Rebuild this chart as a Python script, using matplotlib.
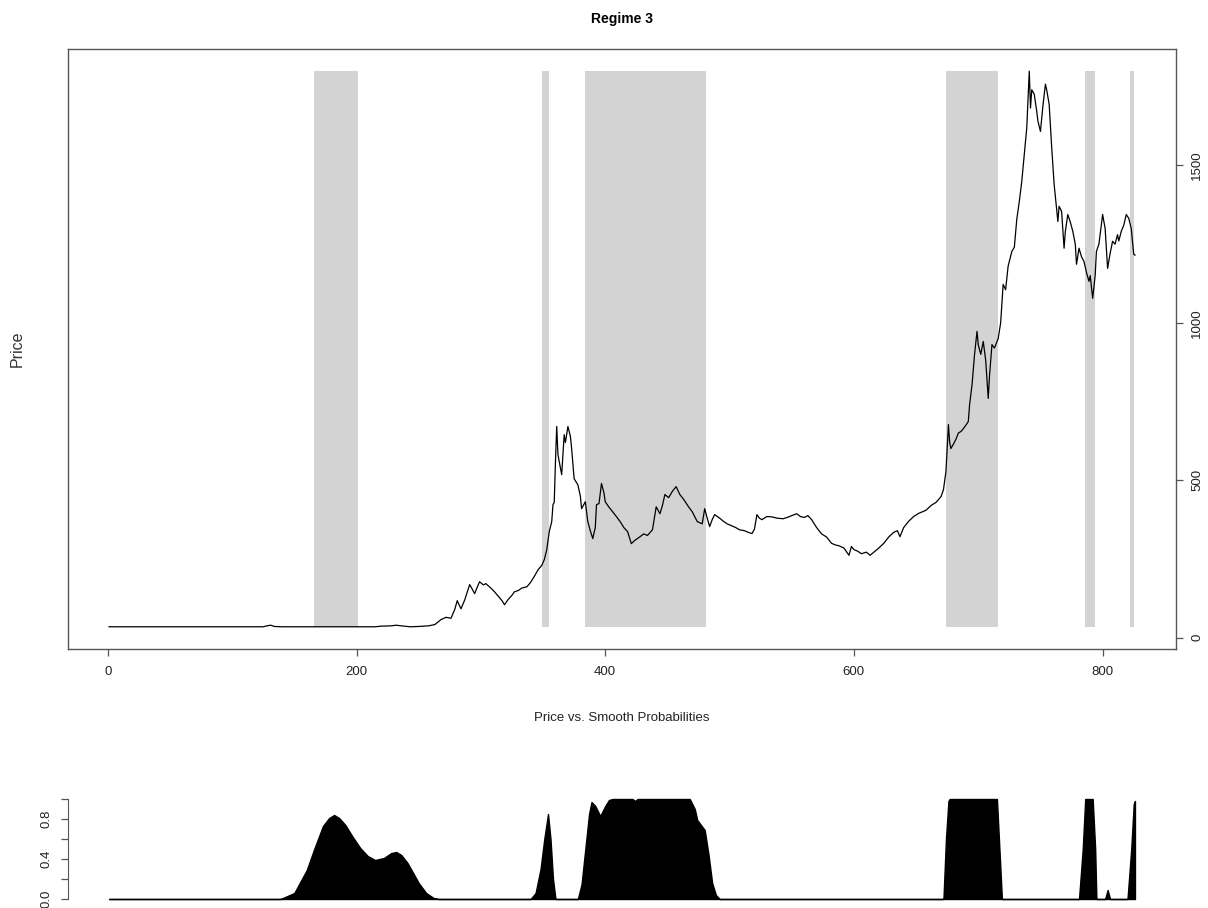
import numpy as np
import matplotlib
matplotlib.use('Agg')
import matplotlib.pyplot as plt

plt.rcParams['font.family'] = ['Liberation Sans Narrow', 'Liberation Sans', 'DejaVu Sans']

# price series (month index, price)
month = [1, 125, 128, 131, 134, 140, 215, 220, 228, 232, 236, 243, 250, 258, 263, 268, 272, 276,
         279, 281, 284, 287, 291, 293, 295, 297, 299, 302, 304, 308, 311, 314, 317, 319, 322, 325,
         327, 330, 333, 337, 340, 343, 346, 349, 351, 353, 355, 357, 358, 359, 360, 361, 362, 363,
         365, 367, 368, 370, 372, 373, 375, 378, 380, 381, 384, 386, 388, 390, 392, 393, 395, 397,
         399, 400, 403, 406, 409, 412, 415, 418, 421, 424, 428, 431, 434, 438, 441, 444, 446, 448,
         451, 454, 457, 460, 463, 467, 470, 474, 478, 480, 482, 484, 486, 488, 492, 495, 498, 502,
         505, 508, 512, 515, 518, 520, 522, 524, 526, 530, 534, 538, 543, 547, 550, 554, 557, 560,
         563, 566, 570, 574, 578, 582, 585, 588, 592, 596, 598, 600, 603, 606, 610, 613, 616, 620,
         624, 628, 632, 635, 637, 640, 644, 648, 652, 655, 658, 662, 666, 670, 672, 674, 675, 676,
         677, 678, 680, 682, 684, 686, 688, 690, 692, 693, 695, 697, 699, 700, 702, 704, 706, 708,
         709, 711, 713, 716, 718, 720, 722, 724, 727, 729, 731, 733, 735, 737, 739, 741, 742, 743,
         745, 746, 747, 748, 750, 752, 754, 755, 757, 759, 761, 762, 764, 765, 767, 769, 770, 772,
         774, 776, 778, 779, 781, 783, 785, 787, 789, 790, 792, 794, 795, 797, 800, 802, 804, 806,
         808, 810, 812, 813, 815, 817, 819, 821, 823, 825, 826]
price = [35, 35, 38, 40, 36, 35, 35, 37, 38, 40, 38, 35, 36, 38, 42, 58, 65, 62,
         90, 118, 92, 120, 169, 155, 140, 160, 178, 168, 172, 158, 146, 132, 118, 105, 122, 135,
         146, 150, 158, 162, 176, 195, 216, 230, 248, 280, 337, 369, 423, 430, 560, 671, 582, 560,
         518, 645, 620, 671, 640, 601, 505, 486, 450, 410, 432, 369, 340, 315, 350, 423, 426, 490,
         460, 432, 415, 400, 385, 369, 350, 337, 299, 310, 321, 330, 325, 343, 416, 394, 420, 455,
         445, 465, 480, 455, 440, 416, 400, 369, 362, 410, 380, 353, 375, 391, 380, 370, 362, 355,
         350, 343, 340, 335, 331, 345, 391, 380, 375, 385, 384, 380, 378, 383, 388, 394, 385, 382,
         388, 375, 350, 330, 320, 300, 295, 292, 285, 262, 290, 280, 275, 267, 272, 262, 272, 285,
         300, 320, 335, 340, 321, 350, 370, 385, 395, 400, 405, 420, 430, 448, 470, 528, 600, 677,
         620, 601, 615, 630, 650, 655, 664, 675, 687, 740, 804, 900, 973, 930, 900, 941, 880, 760,
         830, 931, 920, 950, 1000, 1122, 1105, 1180, 1227, 1240, 1330, 1386, 1450, 1535, 1620, 1799, 1682, 1740,
         1726, 1700, 1672, 1640, 1608, 1690, 1758, 1740, 1694, 1560, 1440, 1400, 1322, 1370, 1354, 1237, 1290, 1344,
         1320, 1291, 1250, 1186, 1237, 1210, 1195, 1160, 1132, 1150, 1078, 1150, 1227, 1250, 1344, 1300, 1173, 1220,
         1259, 1250, 1280, 1260, 1291, 1310, 1344, 1332, 1300, 1218, 1215]

# smoothed probability of regime 3 (month index, probability)
prob_month = [1, 139, 150, 160, 166, 173, 178, 182, 186, 191, 197, 203, 209, 215, 222, 228, 232, 236,
              241, 246, 250, 256, 262, 266,
              340, 344, 348, 351, 354, 356, 358, 360,
              378, 381, 384, 387, 389, 392, 396, 400, 403, 406, 422, 424, 426, 468, 472, 474, 477,
              480, 483, 486, 489, 492,
              672, 674, 676, 677, 715, 717, 719,
              781, 784, 786, 792, 794, 795,
              802, 804, 806,
              820, 823, 825, 826]
prob = [0, 0, 0.06, 0.29, 0.5, 0.73, 0.81, 0.84, 0.81, 0.74, 0.62, 0.51, 0.43, 0.39, 0.41, 0.46, 0.47, 0.44,
        0.36, 0.25, 0.16, 0.06, 0.01, 0,
        0, 0.06, 0.3, 0.6, 0.85, 0.6, 0.2, 0,
        0, 0.15, 0.5, 0.85, 0.97, 0.93, 0.83, 0.93, 0.99, 1.0, 1.0, 0.98, 1.0, 1.0, 0.9, 0.79, 0.74,
        0.69, 0.45, 0.16, 0.04, 0,
        0, 0.6, 0.98, 1.0, 1.0, 0.5, 0,
        0, 0.5, 1.0, 1.0, 0.5, 0,
        0, 0.09, 0,
        0, 0.5, 0.95, 0.98]

# months classified in regime 3
regime_start = [166, 349, 384, 674, 786, 822]
regime_end = [201, 355, 481, 716, 794, 825]

month = np.array(month)
price = np.array(price)

W, H = 1208, 908
fig = plt.figure(figsize=(W / 100, H / 100), dpi=100)

axcol = '#555555'
txtcol = '#222222'

# R-style 4% padding
x0, x1 = month.min(), month.max()
xpad = 0.04 * (x1 - x0)
y0, y1 = price.min(), price.max()
ypad = 0.04 * (y1 - y0)

ax = fig.add_axes([68 / W, 1 - 649 / H, (1176 - 68) / W, 600 / H])
for s, e in zip(regime_start, regime_end):
    ax.fill_between([s, e], y0, y1, color='#d3d3d3', lw=0, zorder=1)
ax.plot(month, price, color='black', lw=0.9, zorder=3)
ax.set_xlim(x0 - xpad, x1 + xpad)
ax.set_ylim(y0 - ypad, y1 + ypad)
ax.set_xticks([0, 200, 400, 600, 800])
ax.set_yticks([0, 500, 1000, 1500])
ax.yaxis.tick_right()
for sp in ax.spines.values():
    sp.set_color(axcol)
    sp.set_linewidth(1.0)
ax.tick_params(axis='both', direction='out', length=5, width=0.9, color=axcol,
               labelsize=9.5, labelcolor=txtcol)
ax.tick_params(axis='x', pad=7)
ax.tick_params(axis='y', pad=6)
for lab in ax.get_yticklabels():
    lab.set_rotation(90)
    lab.set_va('center')

fig.text(622 / W, 1 - 19 / H, 'Regime 3', ha='center', va='center', fontsize=10,
         fontweight='bold', color='black')
fig.text(622 / W, 1 - 718 / H, 'Price vs. Smooth Probabilities', ha='center', va='center',
         fontsize=9.5, color=txtcol)
fig.text(17 / W, 1 - 349 / H, 'Price', ha='center', va='center', rotation=90, fontsize=11.5,
         color='#333333', family=['Liberation Sans', 'DejaVu Sans'])

# lower panel: smoothed probabilities
bx = fig.add_axes([68 / W, 1 - 903 / H, (1176 - 68) / W, 108 / H])
bx.fill_between(prob_month, 0, prob, facecolor='black', edgecolor='black', lw=1.0)
bx.set_xlim(x0 - xpad, x1 + xpad)
bx.set_ylim(-0.04, 1.04)
for k in ['top', 'right', 'bottom']:
    bx.spines[k].set_visible(False)
bx.spines['left'].set_bounds(0, 1)
bx.spines['left'].set_color(axcol)
bx.set_xticks([])
bx.set_yticks([0, 0.2, 0.4, 0.6, 0.8, 1.0])
bx.set_yticklabels(['0.0', '', '0.4', '', '0.8', ''])
bx.tick_params(axis='y', direction='out', length=5, width=0.9, color=axcol,
               labelsize=9.5, labelcolor=txtcol, pad=6)
for lab in bx.get_yticklabels():
    lab.set_rotation(90)
    lab.set_va('center')

fig.savefig('out.png', dpi=100)
